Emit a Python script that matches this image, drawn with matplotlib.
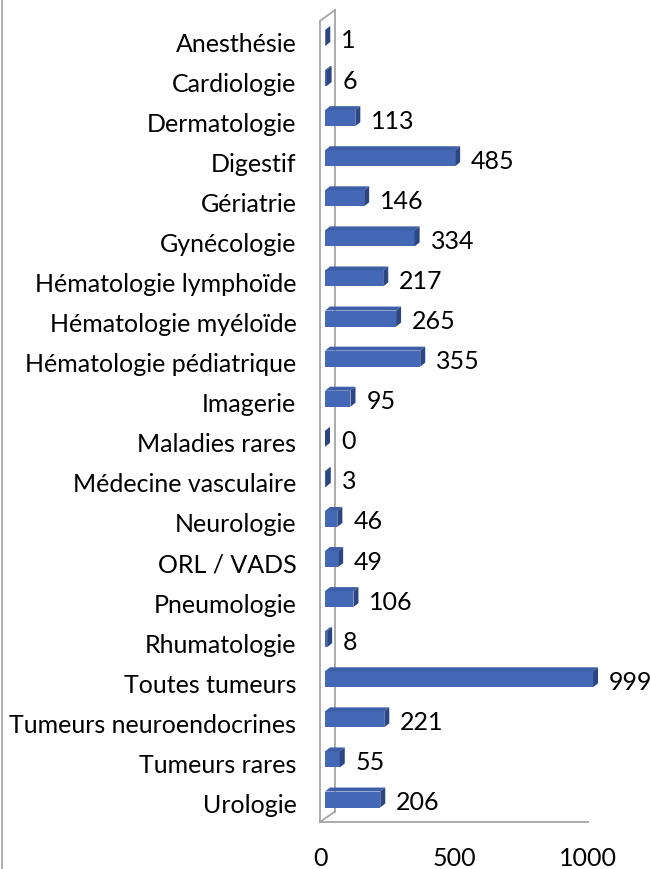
import matplotlib
matplotlib.use('Agg')
import matplotlib.pyplot as plt
import matplotlib.transforms as mtransforms
from matplotlib.patches import Polygon, Rectangle
from matplotlib.lines import Line2D

plt.rcParams['font.family'] = ['Lato', 'DejaVu Sans']

categories = ['Anesthésie', 'Cardiologie', 'Dermatologie', 'Digestif', 'Gériatrie',
              'Gynécologie', 'Hématologie lymphoïde', 'Hématologie myéloïde',
              'Hématologie pédiatrique', 'Imagerie', 'Maladies rares',
              'Médecine vasculaire', 'Neurologie', 'ORL / VADS', 'Pneumologie',
              'Rhumatologie', 'Toutes tumeurs', 'Tumeurs neuroendocrines',
              'Tumeurs rares', 'Urologie']
values = [1, 6, 113, 485, 146, 334, 217, 265, 355, 95, 0, 3, 46, 49, 106, 8, 999, 221, 55, 206]
x_ticks = [0, 500, 1000]

W, H = 651, 870
fig = plt.figure(figsize=(W / 100, H / 100), dpi=100)

# axes = front plane of the excel 3d box (pixel geometry from the reference)
left_px, right_px, top_px, bottom_px = 320, 588.3, 22, 823
ax = fig.add_axes([left_px / W, 1 - bottom_px / H, (right_px - left_px) / W, (bottom_px - top_px) / H])
ax.set_xlim(0, 1000)
ax.set_ylim((bottom_px - 39) / 40.08, (top_px - 39) / 40.08)
ax.set_facecolor('none')

for s in ['top', 'right']:
    ax.spines[s].set_visible(False)
wall = '#A5A5A5'
ax.spines['left'].set_color(wall)
ax.spines['bottom'].set_color(wall)
ax.spines['left'].set_linewidth(1.3)
ax.spines['bottom'].set_linewidth(1.3)

# back wall edges (drawn in pixels)
def px(x, y):
    return ax.transData.inverted().transform(fig.transFigure.transform((x / W, 1 - y / H)))

def shift(x, y, dx, dy):
    d = ax.transData.transform((x, y))
    return ax.transData.inverted().transform((d[0] + dx, d[1] + dy))

for pts in [[(320, 823), (335, 812.5)], [(335, 812.5), (335, 11)], [(320, 22), (335, 11)]]:
    a, b = px(*pts[0]), px(*pts[1])
    ax.add_line(Line2D([a[0], b[0]], [a[1], b[1]], color=wall, lw=1.3, clip_on=False, zorder=1))

# bars: front face + top face + side face
front_c, top_c, side_c = '#4468B6', '#3E5FA8', '#2B4682'
half = 8 / 40.08
off_x, dep_x, dep_y = 5, 5, 4
for i, v in enumerate(values):
    x0 = shift(0, i, off_x, 0)[0]
    x1 = shift(v, i, off_x, 0)[0]
    yt, yb = i - half, i + half
    ax.add_patch(Rectangle((x0, yt), x1 - x0, yb - yt, facecolor=front_c, edgecolor='none',
                           zorder=3, clip_on=False))
    top = [(x0, yt), (x1, yt), tuple(shift(x1, yt, dep_x, dep_y)), tuple(shift(x0, yt, dep_x, dep_y))]
    ax.add_patch(Polygon(top, closed=True, facecolor=top_c, edgecolor='none', zorder=3, clip_on=False))
    side = [(x1, yt), (x1, yb), tuple(shift(x1, yb, dep_x, dep_y)), tuple(shift(x1, yt, dep_x, dep_y))]
    ax.add_patch(Polygon(side, closed=True, facecolor=side_c, edgecolor='none', zorder=3, clip_on=False))
    ax.annotate(str(v), xy=(x1, i), xytext=(16, -9.5), textcoords='offset pixels',
                ha='left', va='baseline', fontsize=18, color='black', annotation_clip=False)

ax.set_yticks(range(len(categories)))
ax.set_yticklabels(categories, fontsize=18)
ax.set_xticks(x_ticks)
ax.set_xticklabels([str(t) for t in x_ticks], fontsize=18)
ax.tick_params(axis='y', length=0, pad=17)
ax.tick_params(axis='x', length=0, pad=17)

down = mtransforms.ScaledTranslation(0, -3 / 100, fig.dpi_scale_trans)
for lab in ax.get_yticklabels():
    lab.set_transform(lab.get_transform() + down)

# thin border on the left edge of the picture
fig.add_artist(Line2D([1.5 / W, 1.5 / W], [0, 1], color='#A0A0A0', lw=1.2))

fig.savefig('out.png', dpi=100)
